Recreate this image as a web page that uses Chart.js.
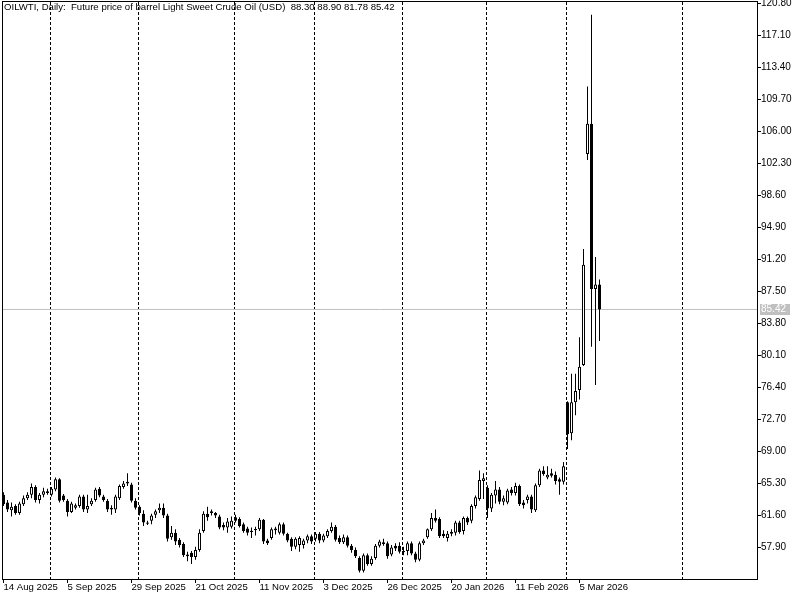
<!DOCTYPE html>
<html>
<head>
<meta charset="utf-8">
<style>
  html, body { margin: 0; padding: 0; background: #fff; }
  #wrap { width: 800px; height: 600px; }
</style>
<script src="https://cdn.jsdelivr.net/npm/chart.js@4.4.1/dist/chart.umd.min.js"></script>
</head>
<body>
<div id="wrap"><canvas id="chart" width="800" height="600"></canvas></div>
<script>
  const symbolTitle = 'OILWTI, Daily:  Future price of barrel Light Sweet Crude Oil (USD)  88.30 88.90 81.78 85.42';

  // daily bars, one per trading day starting 14 Aug 2025
  const opens = [
    64.0, 63.1, 62.2, 62.7, 61.9, 62.9, 63.6, 64.0, 64.9, 63.4,
    64.0, 64.4, 64.0, 64.6, 65.8, 63.9, 63.3, 62.0, 62.5, 62.7,
    63.8, 62.3, 62.9, 63.4, 64.7, 63.8, 63.3, 62.3, 62.3, 63.6,
    64.9, 65.3, 65.2, 63.3, 62.6, 61.8, 60.8, 61.0, 61.7, 62.2,
    62.5, 61.6, 59.1, 59.6, 58.8, 58.3, 57.1, 57.3, 56.8, 57.6,
    59.8, 61.8, 62.1, 61.9, 61.5, 60.5, 60.2, 60.3, 61.4, 61.2,
    60.6, 60.1, 59.7, 59.9, 60.0, 61.1, 58.7, 59.0, 59.9, 59.6,
    60.6, 59.5, 58.9, 58.0, 58.2, 58.2, 58.7, 59.2, 58.9, 59.5,
    58.7, 59.2, 59.8, 60.3, 59.0, 58.5, 59.1, 58.1, 57.6, 56.7,
    55.2, 57.0, 56.0, 56.7, 58.1, 58.5, 58.4, 57.1, 58.1, 58.1,
    57.5, 57.5, 58.4, 57.2, 56.5, 58.4, 59.1, 60.0, 61.3, 61.2,
    59.5, 59.0, 59.7, 59.6, 60.8, 59.8, 61.3, 61.0, 62.7, 63.5,
    65.6, 64.8, 62.4, 63.9, 64.6, 63.2, 63.1, 64.6, 64.2, 65.0,
    63.1, 63.4, 63.8, 62.2, 65.1, 66.8, 66.0, 66.5, 66.3, 65.8,
    65.5, 74.7, 71.1, 74.7, 76.1, 79.0, 103.4, 106.9, 87.8, 88.3
  ];
  const highs = [
    64.3, 63.4, 63.1, 62.9, 63.2, 63.9, 64.3, 65.3, 65.1, 64.2,
    64.8, 64.7, 64.9, 66.0, 65.9, 64.1, 63.5, 63.2, 63.0, 64.0,
    64.0, 64.0, 63.6, 64.8, 64.9, 64.0, 63.5, 62.8, 64.0, 65.2,
    65.6, 66.5, 65.4, 63.6, 62.8, 62.2, 61.0, 61.8, 62.3, 63.0,
    63.0, 61.8, 60.4, 60.0, 59.0, 58.5, 57.4, 57.5, 58.0, 60.0,
    62.1, 62.6, 62.3, 62.0, 61.7, 60.8, 61.3, 61.5, 61.7, 61.4,
    60.8, 60.3, 60.2, 60.3, 61.3, 61.2, 58.9, 60.2, 60.3, 60.8,
    60.8, 59.6, 59.1, 59.1, 59.2, 58.9, 59.4, 59.4, 59.7, 59.7,
    59.5, 60.0, 60.8, 60.5, 59.3, 59.4, 59.3, 58.3, 57.9, 56.9,
    57.2, 57.2, 56.9, 58.3, 58.8, 58.9, 58.6, 58.2, 58.4, 58.5,
    58.0, 58.6, 58.6, 57.4, 58.6, 58.9, 60.1, 61.9, 62.3, 61.4,
    59.9, 59.8, 60.0, 61.0, 61.0, 61.5, 61.5, 62.9, 63.9, 66.8,
    66.5, 65.1, 64.2, 65.6, 64.9, 63.9, 64.7, 64.9, 65.4, 65.2,
    63.4, 64.0, 64.0, 65.3, 67.0, 67.3, 67.3, 67.0, 66.7, 66.0,
    67.8, 74.8, 78.0, 78.0, 82.2, 92.4, 111.2, 119.5, 91.5, 88.9
  ];
  const lows = [
    62.7, 62.0, 61.5, 61.7, 61.7, 62.7, 63.4, 63.6, 63.1, 63.0,
    63.7, 64.0, 63.8, 64.4, 63.1, 63.2, 61.5, 61.9, 62.3, 62.5,
    62.0, 61.9, 62.7, 63.2, 63.7, 63.2, 62.0, 61.7, 61.9, 63.4,
    64.7, 65.0, 63.1, 62.3, 61.6, 60.4, 60.5, 60.6, 61.3, 61.9,
    61.3, 58.6, 58.8, 58.2, 57.9, 56.8, 56.3, 56.0, 56.5, 57.4,
    59.6, 61.0, 61.6, 61.3, 60.0, 59.9, 59.6, 60.1, 60.8, 60.2,
    59.6, 59.3, 59.0, 59.3, 59.8, 58.3, 58.2, 58.8, 59.4, 59.4,
    59.3, 58.5, 57.5, 57.7, 57.4, 57.8, 58.4, 58.3, 58.6, 58.4,
    58.5, 59.0, 59.6, 58.6, 58.3, 58.3, 57.9, 57.3, 56.7, 55.0,
    55.0, 55.8, 55.8, 56.5, 57.9, 58.1, 56.6, 56.9, 57.5, 57.2,
    57.0, 57.0, 57.0, 56.2, 56.3, 58.2, 58.9, 59.8, 60.8, 59.0,
    59.0, 58.6, 59.2, 59.3, 59.5, 59.4, 60.5, 60.7, 62.4, 63.3,
    63.5, 61.3, 62.0, 63.0, 62.9, 62.8, 62.9, 63.9, 63.9, 62.7,
    62.4, 63.0, 61.9, 62.0, 64.9, 66.2, 65.8, 66.0, 65.2, 64.0,
    65.2, 69.3, 70.3, 73.2, 75.0, 78.9, 102.7, 81.1, 76.7, 81.78
  ];
  const closes = [
    62.9, 62.3, 62.6, 61.9, 63.0, 63.6, 64.0, 64.9, 63.4, 64.0,
    64.4, 64.2, 64.7, 65.8, 63.3, 63.4, 62.0, 63.0, 62.8, 63.8,
    62.3, 62.7, 63.3, 64.6, 63.9, 63.4, 62.3, 62.5, 63.8, 65.0,
    65.3, 65.5, 63.3, 62.5, 61.9, 60.8, 60.65, 61.6, 62.1, 62.5,
    61.6, 58.9, 59.6, 58.6, 58.2, 57.0, 56.9, 56.8, 57.6, 59.6,
    61.8, 61.4, 61.9, 61.6, 60.2, 60.2, 60.9, 61.0, 61.0, 60.4,
    59.8, 59.6, 59.85, 60.05, 61.1, 58.6, 58.4, 60.0, 60.1, 60.6,
    59.5, 58.7, 58.0, 58.9, 59.0, 58.7, 59.2, 58.6, 59.5, 58.7,
    59.3, 59.8, 60.3, 58.8, 58.5, 59.1, 58.1, 57.6, 56.9, 55.2,
    57.0, 56.0, 56.6, 58.1, 58.6, 58.3, 56.9, 57.9, 57.8, 57.4,
    57.35, 58.4, 57.2, 56.5, 58.4, 58.7, 60.0, 61.3, 61.0, 59.2,
    59.2, 59.5, 59.5, 60.8, 59.7, 61.3, 60.8, 62.7, 63.7, 65.7,
    65.9, 62.4, 64.0, 64.6, 63.2, 63.6, 64.5, 64.2, 65.0, 62.9,
    62.8, 63.8, 62.3, 65.1, 66.8, 66.4, 66.3, 66.2, 65.6, 65.5,
    67.3, 71.0, 74.7, 76.0, 78.8, 90.6, 106.9, 87.8, 88.3, 85.42
  ];

  // bar index of each date label, and the labels
  const dateTickIdx = [0, 16, 32, 48, 64, 80, 96, 112, 128, 144];
  const dateTickLabels = ['14 Aug 2025', '5 Sep 2025', '29 Sep 2025', '21 Oct 2025', '11 Nov 2025',
    '3 Dec 2025', '26 Dec 2025', '20 Jan 2026', '11 Feb 2026', '5 Mar 2026'];
  // first bar of each month (period separators)
  const monthSepIdx = [12, 34, 58, 78, 100, 121, 141, 170];
  const priceTicks = [57.9, 61.6, 65.3, 69.0, 72.7, 76.4, 80.1, 83.8, 87.5, 91.2,
    94.9, 98.6, 102.3, 106.0, 109.7, 113.4, 117.1, 120.8];
  const lastPrice = 85.42;

  const X_MIN = -0.375, X_MAX = 188.375;
  const Y_MIN = 54.26, Y_MAX = 120.97;
  const FONT_FAMILY = '"Liberation Sans", Arial, sans-serif';

  const wickData = lows.map((l, i) => ({ x: i, y: [l, highs[i]] }));
  const bodyData = opens.map((o, i) => ({ x: i, y: [o, closes[i]] }));
  const bodyFill = opens.map((o, i) => closes[i] >= o ? '#ffffff' : '#000000');

  const chartDecor = {
    id: 'chartDecor',
    afterDraw(chart) {
      const { ctx, chartArea } = chart;
      const yScale = chart.scales.y;
      ctx.save();
      // frame left / top
      ctx.fillStyle = '#000';
      ctx.fillRect(2, 1, 1, chartArea.bottom - 1);
      ctx.fillRect(2, 1, chartArea.right - 1, 1);
      // title
      ctx.font = '9.6px ' + FONT_FAMILY;
      ctx.textBaseline = 'alphabetic';
      ctx.textAlign = 'left';
      ctx.fillText(symbolTitle, 4, 10);
      // last price marker
      const py = Math.round(yScale.getPixelForValue(lastPrice));
      ctx.fillStyle = '#c0c0c0';
      ctx.fillRect(chartArea.right + 3, py - 5, 30, 11);
      ctx.fillStyle = '#ffffff';
      ctx.font = '10px ' + FONT_FAMILY;
      ctx.textBaseline = 'middle';
      ctx.fillText(lastPrice.toFixed(2), chartArea.right + 4, py + 0.5);
      ctx.restore();
    }
  };

  new Chart(document.getElementById('chart'), {
    type: 'bar',
    data: {
      datasets: [
        {
          data: bodyData,
          backgroundColor: bodyFill,
          borderColor: '#000',
          borderWidth: 1,
          borderSkipped: false,
          inflateAmount: 0,
          grouped: false,
          barThickness: 3,
          maxBarThickness: 3
        },
        {
          data: wickData,
          backgroundColor: '#000',
          borderWidth: 0,
          inflateAmount: 0,
          grouped: false,
          barThickness: 1,
          maxBarThickness: 1
        },
        {
          type: 'line',
          data: [{ x: X_MIN, y: lastPrice }, { x: X_MAX, y: lastPrice }],
          borderColor: '#c0c0c0',
          borderWidth: 1,
          pointRadius: 0
        }
      ]
    },
    options: {
      responsive: false,
      animation: false,
      layout: { padding: { left: 2, top: 2, right: 0, bottom: 0 } },
      plugins: {
        legend: { display: false },
        tooltip: { enabled: false },
        title: { display: false }
      },
      scales: {
        x: {
          type: 'linear',
          position: 'bottom',
          offset: false,
          min: X_MIN,
          max: X_MAX,
          afterBuildTicks: (scale) => { scale.ticks = dateTickIdx.map(v => ({ value: v })); },
          afterFit: (scale) => { scale.height = 21; scale.paddingLeft = 0; scale.paddingRight = 0; },
          ticks: {
            autoSkip: false,
            maxRotation: 0,
            minRotation: 0,
            align: 'start',
            padding: -1,
            color: '#000',
            font: { family: FONT_FAMILY, size: 9.6 },
            callback: (v, i) => dateTickLabels[i]
          },
          grid: { offset: false, drawOnChartArea: false, drawTicks: true, tickLength: 4, color: '#000' },
          border: { display: true, color: '#000', width: 1 }
        },
        xs: {
          type: 'linear',
          position: 'bottom',
          offset: false,
          min: X_MIN,
          max: X_MAX,
          afterBuildTicks: (scale) => { scale.ticks = monthSepIdx.map(v => ({ value: v - 0.25 })); },
          afterFit: (scale) => { scale.height = 0; scale.paddingLeft = 0; scale.paddingRight = 0; },
          ticks: { display: false },
          grid: { offset: false, drawOnChartArea: true, drawTicks: false, color: '#000', lineWidth: 1 },
          border: { display: false, dash: [3, 2] }
        },
        y: {
          type: 'linear',
          position: 'right',
          min: Y_MIN,
          max: Y_MAX,
          afterBuildTicks: (scale) => { scale.ticks = priceTicks.map(v => ({ value: v })); },
          afterFit: (scale) => { scale.width = 43; scale.paddingTop = 0; scale.paddingBottom = 0; },
          ticks: {
            padding: 0,
            color: '#000',
            font: { family: FONT_FAMILY, size: 10 },
            callback: (v) => v.toFixed(2)
          },
          grid: { drawOnChartArea: false, drawTicks: true, tickLength: 4, color: '#000' },
          border: { display: true, color: '#000', width: 1 }
        }
      }
    },
    plugins: [chartDecor]
  });
</script>
</body>
</html>
